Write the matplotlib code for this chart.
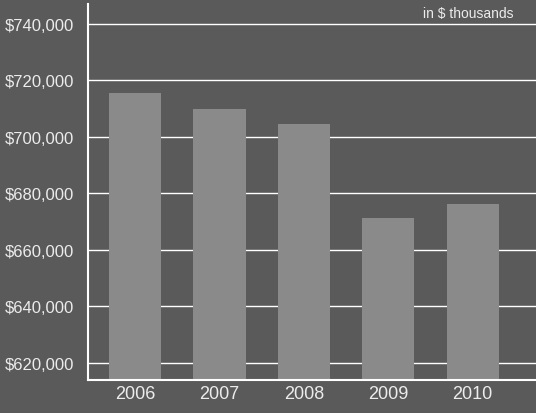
import matplotlib.pyplot as plt
from matplotlib.ticker import FuncFormatter

years = ['2006', '2007', '2008', '2009', '2010']
values = [715400, 709700, 704400, 671300, 676300]
y_ticks = [620000, 640000, 660000, 680000, 700000, 720000, 740000]

bg = '#5a5a5a'
bar_color = '#8a8a8a'
fg = '#ececec'

plt.rcParams['font.family'] = ['Liberation Sans', 'DejaVu Sans']

fig = plt.figure(figsize=(5.36, 4.14), dpi=100, facecolor=bg)
ax = fig.add_axes([0.164, 0.08, 0.836, 0.908], facecolor=bg)

x = range(len(years))
ax.bar(x, values, width=0.62, color=bar_color, zorder=2)

ax.set_xlim(-0.56, 4.75)
ax.set_ylim(614000, 747000)
ax.set_yticks(y_ticks)
ax.yaxis.set_major_formatter(FuncFormatter(lambda v, p: '${:,.0f}'.format(v)))
ax.set_xticks(list(x))
ax.set_xticklabels(years)

ax.grid(axis='y', color='white', linewidth=1.0, zorder=1)
ax.set_axisbelow(True)
ax.tick_params(axis='y', length=0, pad=10, labelsize=12, colors=fg)
ax.tick_params(axis='x', length=0, pad=4, labelsize=13, colors=fg)

for side in ['top', 'right']:
    ax.spines[side].set_visible(False)
for side in ['left', 'bottom']:
    ax.spines[side].set_color('white')
    ax.spines[side].set_linewidth(1.5)
    ax.spines[side].set_zorder(3)

fig.text(0.958, 0.983, 'in $ thousands', ha='right', va='top', fontsize=10, color=fg)

fig.savefig('out.png', dpi=100, facecolor=bg)
